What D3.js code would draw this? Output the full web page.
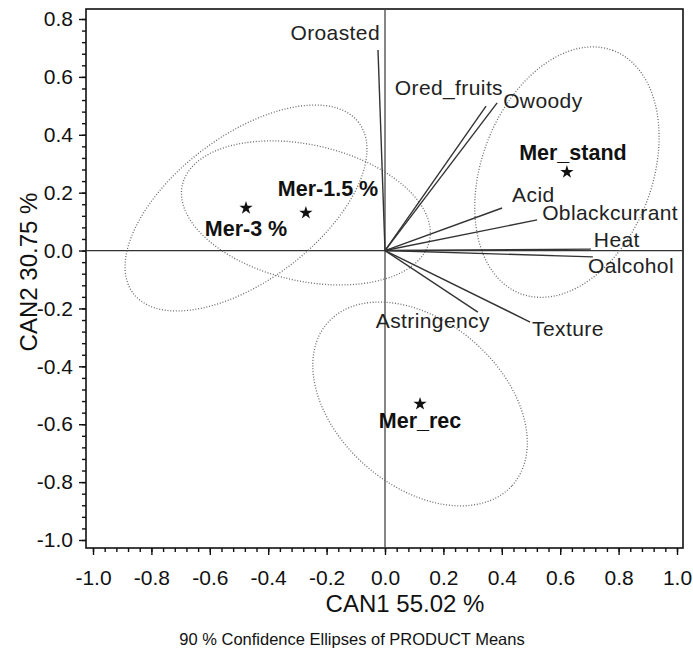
<!DOCTYPE html>
<html>
<head>
<meta charset="utf-8">
<script src="https://cdn.jsdelivr.net/npm/d3@7"></script>
<style>
  html, body { margin: 0; padding: 0; background: #fff; }
  svg { display: block; font-family: "Liberation Sans", Arial, Helvetica, sans-serif; }
</style>
</head>
<body>
<svg id="chart" width="693" height="657"></svg>
<script>
// ---- data ----
const attributes = ["Oroasted", "Ored_fruits", "Owoody", "Acid", "Oblackcurrant", "Heat", "Oalcohol", "Texture", "Astringency"];
const attrCan1 = [-0.024, 0.346, 0.384, 0.401, 0.521, 0.705, 0.712, 0.497, 0.318];
const attrCan2 = [0.693, 0.499, 0.510, 0.147, 0.106, 0.005, -0.022, -0.247, -0.213];

const products = ["Mer-3 %", "Mer-1.5 %", "Mer_stand", "Mer_rec"];
const prodCan1 = [-0.476, -0.271, 0.623, 0.120];
const prodCan2 = [0.147, 0.130, 0.271, -0.530];
// 90% confidence ellipse: semi-axes (canonical units) and rotation (degrees)
const ellMajor = [0.486, 0.434, 0.449, 0.423];
const ellMinor = [0.249, 0.235, 0.292, 0.283];
const ellAngle = [37.5, -13, 69.4, -41.8];

const xTicks = [-1.0, -0.8, -0.6, -0.4, -0.2, 0.0, 0.2, 0.4, 0.6, 0.8, 1.0];
const yTicks = [-1.0, -0.8, -0.6, -0.4, -0.2, 0.0, 0.2, 0.4, 0.6, 0.8];
const xTitle = "CAN1 55.02 %";
const yTitle = "CAN2 30.75 %";
const caption = "90 % Confidence Ellipses of PRODUCT Means";

// ---- layout ----
const svg = d3.select("#chart");
const frame = { left: 86, right: 683, top: 9, bottom: 548 };
const x = d3.scaleLinear().domain([-1, 1]).range([93, 677]);
const y = d3.scaleLinear().domain([-1, 0.8]).range([540, 19]);

// label placements (pixel offsets from vector / mean point)
const attrLabel = {
  "Oroasted":      { dx: 2,  dy: -10, anchor: "end" },
  "Ored_fruits":   { dx: 17, dy: -11, anchor: "end" },
  "Owoody":        { dx: 6,  dy: 5,   anchor: "start" },
  "Acid":          { dx: 10, dy: -6,  anchor: "start" },
  "Oblackcurrant": { dx: 5,  dy: 0,   anchor: "start" },
  "Heat":          { dx: 3,  dy: -2,  anchor: "start" },
  "Oalcohol":      { dx: -5, dy: 16,  anchor: "start" },
  "Texture":       { dx: 2,  dy: 14,  anchor: "start" },
  "Astringency":   { dx: 12, dy: 16,  anchor: "end" }
};
const prodLabel = {
  "Mer-3 %":   { dx: 0,   dy: 28,  anchor: "middle" },
  "Mer-1.5 %": { dx: -28, dy: -17, anchor: "start" },
  "Mer_stand": { dx: 6,   dy: -12, anchor: "middle" },
  "Mer_rec":   { dx: 0,   dy: 24,  anchor: "middle" }
};

// ---- frame ----
svg.append("rect")
  .attr("x", frame.left).attr("y", frame.top)
  .attr("width", frame.right - frame.left).attr("height", frame.bottom - frame.top)
  .attr("fill", "none").attr("stroke", "#111").attr("stroke-width", 1.6);

// ---- reference axes through origin ----
svg.append("line")
  .attr("x1", frame.left).attr("x2", frame.right)
  .attr("y1", y(0)).attr("y2", y(0))
  .attr("stroke", "#333").attr("stroke-width", 1.3);
svg.append("line")
  .attr("x1", x(0)).attr("x2", x(0))
  .attr("y1", frame.top).attr("y2", frame.bottom)
  .attr("stroke", "#444").attr("stroke-width", 1.3);

// ---- ticks ----
const minorX = d3.range(-25, 26).map(i => i * 0.04).filter(v => v >= -1.0001 && v <= 1.0001);
const minorY = d3.range(-25, 21).map(i => i * 0.04).filter(v => v >= -1.0001 && v <= 0.8001);

const xAxis = d3.axisBottom(x).tickValues(xTicks).tickFormat(d3.format(".1f")).tickSize(7).tickSizeOuter(0);
const xMinor = d3.axisBottom(x).tickValues(minorX).tickFormat("").tickSize(4).tickSizeOuter(0);
const yAxis = d3.axisLeft(y).tickValues(yTicks).tickFormat(d3.format(".1f")).tickSize(7).tickSizeOuter(0);
const yMinor = d3.axisLeft(y).tickValues(minorY).tickFormat("").tickSize(4).tickSizeOuter(0);

function styleAxis(g) {
  g.select(".domain").remove();
  g.selectAll(".tick line").attr("stroke", "#111").attr("stroke-width", 1.4);
  g.selectAll("text").attr("fill", "#111").style("font-size", "21px")
    .style("font-family", "'Liberation Sans', Arial, sans-serif");
}
svg.append("g").attr("transform", `translate(0,${frame.bottom})`).call(xMinor).call(styleAxis);
svg.append("g").attr("transform", `translate(0,${frame.bottom})`).call(xAxis).call(styleAxis)
  .selectAll("text").attr("y", 22).attr("dy", "0.71em").text(d => d3.format(".1f")(d).replace("−", "-"));
svg.append("g").attr("transform", `translate(${frame.left},0)`).call(yMinor).call(styleAxis);
svg.append("g").attr("transform", `translate(${frame.left},0)`).call(yAxis).call(styleAxis)
  .selectAll("text").attr("x", -13).text(d => d3.format(".1f")(d).replace("−", "-"));

// ---- axis titles ----
svg.append("text").attr("x", 405).attr("y", 612).attr("text-anchor", "middle")
  .style("font-size", "24px").attr("fill", "#111").text(xTitle);
svg.append("text").attr("transform", "translate(37,272) rotate(-90)").attr("text-anchor", "middle")
  .style("font-size", "24px").attr("fill", "#111").text(yTitle);
svg.append("text").attr("x", 352).attr("y", 645).attr("text-anchor", "middle")
  .style("font-size", "16.5px").attr("fill", "#111").text(caption);

// ---- confidence ellipses ----
const line = d3.line().x(d => x(d[0])).y(d => y(d[1]));
products.forEach((p, i) => {
  const th = ellAngle[i] * Math.PI / 180;
  const pts = d3.range(0, 361, 3).map(deg => {
    const t = deg * Math.PI / 180;
    const u = ellMajor[i] * Math.cos(t), v = ellMinor[i] * Math.sin(t);
    return [prodCan1[i] + u * Math.cos(th) - v * Math.sin(th),
            prodCan2[i] + u * Math.sin(th) + v * Math.cos(th)];
  });
  svg.append("path").attr("d", line(pts)).attr("fill", "none")
    .attr("stroke", "#6a6a6a").attr("stroke-width", 1.3).attr("stroke-dasharray", "1,1.8");
});

// ---- attribute vectors ----
attributes.forEach((a, i) => {
  svg.append("line")
    .attr("x1", x(0)).attr("y1", y(0))
    .attr("x2", x(attrCan1[i])).attr("y2", y(attrCan2[i]))
    .attr("stroke", "#333").attr("stroke-width", 1.4);
  const lp = attrLabel[a];
  svg.append("text")
    .attr("x", x(attrCan1[i]) + lp.dx).attr("y", y(attrCan2[i]) + lp.dy)
    .attr("text-anchor", lp.anchor)
    .style("font-size", "21px").style("letter-spacing", "0.4px")
    .attr("fill", "#222").text(a);
});

// ---- product means ----
const star = d3.symbol().type(d3.symbolStar).size(55);
products.forEach((p, i) => {
  svg.append("path").attr("d", star())
    .attr("transform", `translate(${x(prodCan1[i])},${y(prodCan2[i])})`)
    .attr("fill", "#111");
  const lp = prodLabel[p];
  svg.append("text")
    .attr("x", x(prodCan1[i]) + lp.dx).attr("y", y(prodCan2[i]) + lp.dy)
    .attr("text-anchor", lp.anchor)
    .style("font-size", "21.5px").style("font-weight", "bold").attr("fill", "#111").text(p);
});
</script>
</body>
</html>
